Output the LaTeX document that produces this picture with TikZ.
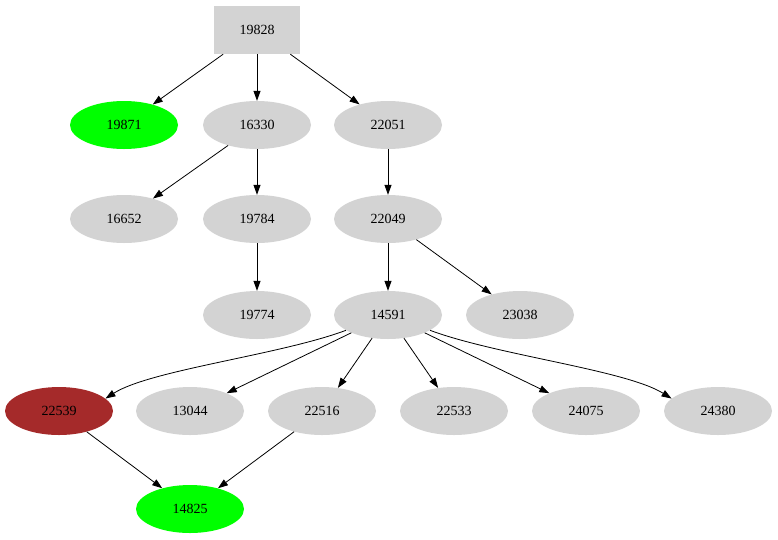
\documentclass[tikz,border=0pt]{standalone}
\usepackage{fontspec}
\setmainfont{Liberation Serif}
\usetikzlibrary{arrows.meta,shapes.geometric}
\definecolor{lg}{HTML}{D3D3D3}
\definecolor{gr}{HTML}{00FF00}
\definecolor{br}{HTML}{A52A2A}
\begin{document}
\begin{tikzpicture}[x=1pt,y=-1pt,
  el/.style={ellipse,fill=lg,minimum width=108pt,minimum height=48pt,inner sep=0pt,font=\fontsize{14}{16}\selectfont},
  bx/.style={rectangle,fill=lg,minimum width=86pt,minimum height=48pt,inner sep=0pt,font=\fontsize{14}{16}\selectfont},
  ar/.style={-{Triangle[length=10pt,width=7pt]},line width=0.8pt}]
\useasboundingbox (0,0) rectangle (778,539);
\node[bx] (a) at (257,30) {19828};
\node[el,fill=gr] (b) at (124,125) {19871};
\node[el] (c) at (257,125) {16330};
\node[el] (d) at (388,125) {22051};
\node[el] (e) at (124,219) {16652};
\node[el] (f) at (257,219) {19784};
\node[el] (g) at (388,219) {22049};
\node[el] (h) at (257,315) {19774};
\node[el] (i) at (388,315) {14591};
\node[el] (j) at (520,315) {23038};
\node[el,fill=br] (k) at (59,411) {22539};
\node[el] (l) at (190,411) {13044};
\node[el] (m) at (322,411) {22516};
\node[el] (n) at (454,411) {22533};
\node[el] (o) at (586,411) {24075};
\node[el] (p) at (718,411) {24380};
\node[el,fill=gr] (q) at (190,509) {14825};
\draw[ar] (a) -- (b);
\draw[ar] (a) -- (c);
\draw[ar] (a) -- (d);
\draw[ar] (c) -- (e);
\draw[ar] (c) -- (f);
\draw[ar] (d) -- (g);
\draw[ar] (f) -- (h);
\draw[ar] (g) -- (i);
\draw[ar] (g) -- (j);
\draw[ar] (i.200) .. controls (280,355) and (150,370) .. (k.15);
\draw[ar] (i) -- (l);
\draw[ar] (i) -- (m);
\draw[ar] (i) -- (n);
\draw[ar] (i) -- (o);
\draw[ar] (i.340) .. controls (496,355) and (626,370) .. (p.165);
\draw[ar] (k) -- (q);
\draw[ar] (m) -- (q);
\end{tikzpicture}
\end{document}
